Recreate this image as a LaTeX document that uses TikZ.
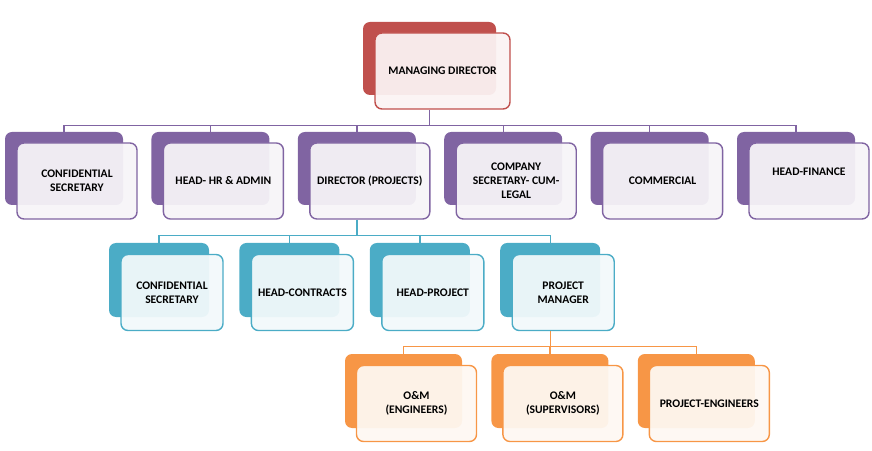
\documentclass[tikz,border=0pt]{standalone}
\usepackage{fontspec}
\setsansfont{Carlito}
\usetikzlibrary{positioning}

\definecolor{mdred}{HTML}{C0504D}
\definecolor{lvpurple}{HTML}{8064A2}
\definecolor{lvteal}{HTML}{4BACC6}
\definecolor{lvorange}{HTML}{F79646}

\begin{document}
\begin{tikzpicture}[
        font=\sffamily\bfseries\fontsize{11.6}{14}\selectfont,
        back/.style={rounded corners=7pt, minimum width=118pt, minimum height=73pt, inner sep=0pt, fill=#1},
        front/.style={rounded corners=7pt, minimum width=120pt, minimum height=76pt, inner sep=2pt, align=center,
            draw=#1, line width=1.4pt, fill=#1!7, fill opacity=0.94, text opacity=1, xshift=13pt, yshift=-12.5pt},
        conn/.style={draw=#1, line width=1.4pt},
        node distance=28pt
    ]
        \useasboundingbox (0,0) rectangle (872pt,450pt);

        \node[back=mdred, minimum width=133pt] (mdb) at (429.5pt,391.5pt) {};
        \node[front=mdred, minimum width=135pt] (md) at (mdb) {MANAGING DIRECTOR};

        \node[back=lvpurple] (cs1b) at (64pt,281.5pt) {};
        \node[back=lvpurple, right=of cs1b] (hrb) {};
        \node[back=lvpurple, right=of hrb] (dirb) {};
        \node[back=lvpurple, right=of dirb] (csecb) {};
        \node[back=lvpurple, right=of csecb] (comb) {};
        \node[back=lvpurple, right=of comb] (finb) {};
        \node[front=lvpurple] (cs1) at (cs1b) {CONFIDENTIAL\\SECRETARY};
        \node[front=lvpurple] (hr) at (hrb) {HEAD- HR \& ADMIN};
        \node[front=lvpurple] (dir) at (dirb) {DIRECTOR (PROJECTS)};
        \node[front=lvpurple] (csec) at (csecb) {COMPANY\\SECRETARY- CUM-\\LEGAL};
        \node[front=lvpurple] (com) at (comb) {COMMERCIAL};
        \node[front=lvpurple] (fin) at (finb) {HEAD-FINANCE\\[5pt]~};

        \node[back=lvteal, minimum width=100pt, minimum height=74pt] (cs2b) at (159pt,170pt) {};
        \node[back=lvteal, minimum width=100pt, minimum height=74pt, right=30pt of cs2b] (hcb) {};
        \node[back=lvteal, minimum width=100pt, minimum height=74pt, right=30pt of hcb] (hpb) {};
        \node[back=lvteal, minimum width=100pt, minimum height=74pt, right=30pt of hpb] (pmb) {};
        \node[front=lvteal, minimum width=102pt] (cs2) at (cs2b) {CONFIDENTIAL\\SECRETARY};
        \node[front=lvteal, minimum width=102pt] (hc) at (hcb) {HEAD-CONTRACTS};
        \node[front=lvteal, minimum width=102pt] (hp) at (hpb) {HEAD-PROJECT};
        \node[front=lvteal, minimum width=102pt] (pm) at (pmb) {PROJECT\\MANAGER};

        \node[back=lvorange, minimum width=117pt, minimum height=74pt] (omeb) at (403.5pt,59pt) {};
        \node[back=lvorange, minimum width=117pt, minimum height=74pt, right=29pt of omeb] (omsb) {};
        \node[back=lvorange, minimum width=117pt, minimum height=74pt, right=29pt of omsb] (peb) {};
        \node[front=lvorange] (ome) at (omeb) {O\&M\\(ENGINEERS)};
        \node[front=lvorange] (oms) at (omsb) {O\&M\\(SUPERVISORS)};
        \node[front=lvorange] (pe) at (peb) {PROJECT-ENGINEERS};

        \path (mdb |- md.south) ++(0,-16pt) coordinate (bus1);
        \draw[conn=lvpurple] (mdb |- md.south) -- (bus1);
        \foreach \n in {cs1b,hrb,dirb,csecb,comb,finb}
            \draw[conn=lvpurple] (bus1) -| (\n.north);

        \path (dirb |- dir.south) ++(0,-16pt) coordinate (bus2);
        \draw[conn=lvteal] (dirb |- dir.south) -- (bus2);
        \foreach \n in {cs2b,hcb,hpb,pmb}
            \draw[conn=lvteal] (bus2) -| (\n.north);

        \path (pmb |- pm.south) ++(0,-15pt) coordinate (bus3);
        \draw[conn=lvorange] (pmb |- pm.south) -- (bus3);
        \foreach \n in {omeb,omsb,peb}
            \draw[conn=lvorange] (bus3) -| (\n.north);
    \end{tikzpicture}
\end{document}
